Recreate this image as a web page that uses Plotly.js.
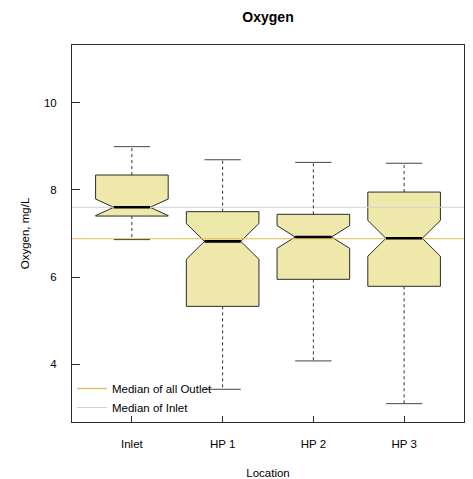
<!DOCTYPE html>
<html>
<head>
<meta charset="utf-8">
<script src="https://cdn.plot.ly/plotly-3.0.1.min.js"></script>
<style>html,body{margin:0;padding:0;background:#fff;}#chart{width:473px;height:479px;}</style>
</head>
<body>
<div id="chart"></div>
<script>
// Data
var locations = ["Inlet", "HP 1", "HP 2", "HP 3"];
var lowerWhisker = [6.86, 3.43, 4.08, 3.10];
var q1 = [7.40, 5.33, 5.95, 5.79];
var median = [7.60, 6.82, 6.92, 6.89];
var q3 = [8.34, 7.50, 7.44, 7.95];
var upperWhisker = [8.99, 8.69, 8.63, 8.61];
var notchSpan = [0.19, 0.41, 0.26, 0.41];
var outletMedian = 6.88;
var inletMedian = 7.60;
var yTicks = [4, 6, 8, 10];

var pos = locations.map(function(_, i){ return i + 1; });
var halfCap = 0.2, halfMed = 0.2;
var fontFam = "Liberation Sans, Arial, sans-serif";
var outline = "#2b2b2b";

var traces = [];
// Boxes (notched); whiskers drawn separately so they can be dashed
traces.push({
  type: "box",
  x: pos,
  q1: q1, median: median, q3: q3,
  lowerfence: q1, upperfence: q3,
  notchspan: notchSpan,
  notched: true, notchwidth: 0.25,
  width: 0.8,
  whiskerwidth: 0,
  boxpoints: false,
  fillcolor: "#EEE8AA",
  line: {color: outline, width: 1},
  showlegend: false, hoverinfo: "skip"
});

// Reference lines
traces.push({
  type: "scatter", mode: "lines",
  x: [0.34, 4.66], y: [outletMedian, outletMedian],
  line: {color: "#E8B850", width: 1.2},
  name: "Median of all Outlet", showlegend: true, hoverinfo: "skip"
});
traces.push({
  type: "scatter", mode: "lines",
  x: [0.34, 4.66], y: [inletMedian, inletMedian],
  line: {color: "#D3D3D3", width: 1},
  name: "Median of Inlet", showlegend: true, hoverinfo: "skip"
});

// Whiskers (dashed), caps (solid), medians (thick)
var wx = [], wy = [], cx = [], cy = [], mx = [], my = [];
pos.forEach(function(p, i){
  wx.push(p, p, null, p, p, null);
  wy.push(q3[i], upperWhisker[i], null, q1[i], lowerWhisker[i], null);
  cx.push(p - halfCap, p + halfCap, null, p - halfCap, p + halfCap, null);
  cy.push(upperWhisker[i], upperWhisker[i], null, lowerWhisker[i], lowerWhisker[i], null);
  mx.push(p - halfMed, p + halfMed, null);
  my.push(median[i], median[i], null);
});
traces.push({type: "scatter", mode: "lines", x: wx, y: wy, connectgaps: false,
  line: {color: "#333", width: 1, dash: "3px,3px"}, showlegend: false, hoverinfo: "skip"});
traces.push({type: "scatter", mode: "lines", x: cx, y: cy, connectgaps: false,
  line: {color: "#444", width: 1}, showlegend: false, hoverinfo: "skip"});
traces.push({type: "scatter", mode: "lines", x: mx, y: my, connectgaps: false,
  line: {color: "#000", width: 2.6}, showlegend: false, hoverinfo: "skip"});

var layout = {
  width: 473, height: 479,
  margin: {l: 72, r: 9, t: 45, b: 57},
  paper_bgcolor: "#fff", plot_bgcolor: "#fff",
  font: {family: fontFam, size: 11.5, color: "#000"},
  title: {text: "<b>Oxygen</b>", font: {family: fontFam, size: 14, color: "#000"},
          x: 0.5667, xanchor: "center", y: 1 - 17/479, yanchor: "middle"},
  xaxis: {
    range: [0.34, 4.66], tickvals: pos, ticktext: locations,
    ticks: "inside", ticklen: 6, tickcolor: outline,
    showgrid: false, zeroline: false,
    showline: true, mirror: true, linecolor: outline, linewidth: 1,
    ticklabelstandoff: 11,
    title: {text: "Location", font: {size: 11.5}, standoff: 21}
  },
  yaxis: {
    range: [2.68, 11.32], tickvals: yTicks, ticktext: yTicks.map(String),
    ticks: "inside", ticklen: 8, tickcolor: outline,
    showgrid: false, zeroline: false,
    showline: true, mirror: true, linecolor: outline, linewidth: 1,
    ticklabelstandoff: 12,
    title: {text: "Oxygen, mg/L", font: {size: 11.5}, standoff: 11}
  },
  showlegend: true,
  legend: {x: 0.0, y: 0.0, xanchor: "left", yanchor: "bottom",
    bgcolor: "rgba(0,0,0,0)", font: {size: 11.5}, tracegroupgap: 0,
    itemwidth: 30}
};

Plotly.newPlot("chart", traces, layout, {displayModeBar: false, staticPlot: true});
</script>
</body>
</html>
